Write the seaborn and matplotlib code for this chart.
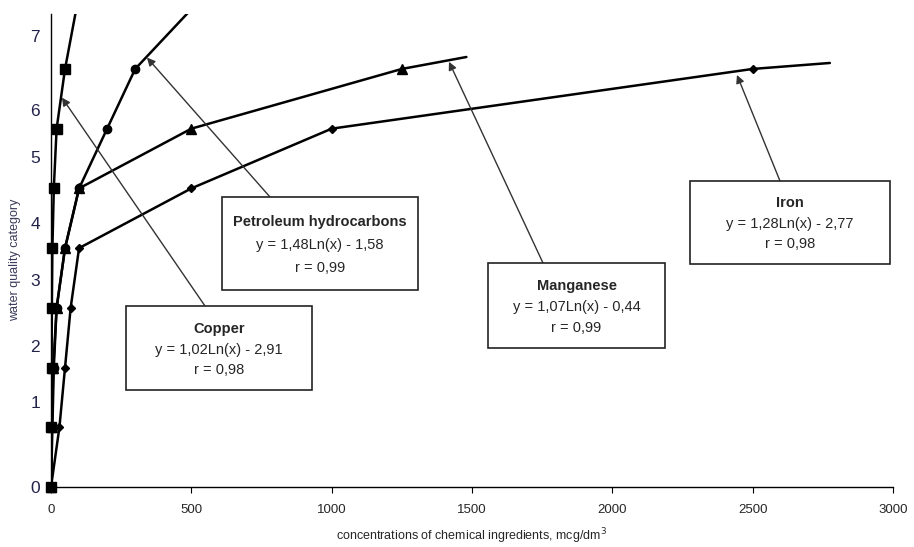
import numpy as np
import pandas as pd
import matplotlib.pyplot as plt
import seaborn as sns
from matplotlib.patches import Rectangle

# Data (x = concentration, y = quality level)
copper_x = [0, 1, 2, 3, 5, 10, 20, 50, 90]
copper_y = [0, 1, 2, 3, 4, 5, 6, 7, 8]
petrol_x = [0, 5, 10, 20, 50, 100, 200, 300, 500]
petrol_y = [0, 1, 2, 3, 4, 5, 6, 7, 8]
mangan_x = [0, 3, 8, 20, 50, 100, 500, 1250, 1480]
mangan_y = [0, 1, 2, 3, 4, 5, 6, 7, 7.2]
iron_x = [0, 30, 50, 70, 100, 500, 1000, 2500, 2775]
iron_y = [0, 1, 2, 3, 4, 5, 6, 7, 7.1]

# category labels and where they sit on the y axis
cat_labels = ['0', '1', '2', '3', '4', '5', '6', '7']
cat_pos = [0, 1.42, 2.36, 3.47, 4.42, 5.53, 6.32, 7.55]

series = [
    ('Copper', copper_x, copper_y, 's', 6.5),
    ('Petroleum hydrocarbons', petrol_x, petrol_y, 'o', 6),
    ('Manganese', mangan_x, mangan_y, '^', 6.5),
    ('Iron', iron_x, iron_y, 'D', 4.5),
]

sns.set_style("white")
plt.rcParams['font.family'] = ['Liberation Sans', 'DejaVu Sans']

fig = plt.figure(figsize=(9.14, 5.47), dpi=100)
ax = fig.add_axes([51 / 914, 60 / 547, 842 / 914, 473 / 547])

for name, xs, ys, mk, ms in series:
    df = pd.DataFrame({'x': xs, 'y': ys})
    sns.lineplot(x='x', y='y', data=df, sort=False, color='black', lw=1.8, ax=ax)
    # last point of each series is only a line end, no marker
    pts = df.iloc[:-1]
    ax.plot(pts['x'], pts['y'], linestyle='none', marker=mk, ms=ms,
            color='black', clip_on=False, zorder=5)

ax.set_xlim(0, 3000)
ax.set_ylim(0, 7.92)
ax.set_xticks(range(0, 3001, 500))
ax.set_yticks(cat_pos)
ax.set_yticklabels(cat_labels)
ax.set_yticks(range(0, 8), minor=True)
ax.tick_params(axis='y', which='major', length=0, pad=8, labelsize=12.5, labelcolor='#23234a')
ax.tick_params(axis='y', which='minor', length=3, direction='out', color='black')
ax.tick_params(axis='x', length=4, direction='out', color='black', labelsize=9.5, pad=8,
               bottom=True)
for s in ['top', 'right']:
    ax.spines[s].set_visible(False)
for s in ['left', 'bottom']:
    ax.spines[s].set_color('black')
    ax.spines[s].set_linewidth(1.0)

ax.set_xlabel('concentrations of chemical ingredients, mcg/dm$^3$', fontsize=9, labelpad=8)
ax.set_ylabel('water quality category', fontsize=9, color='#3a3a5a', labelpad=6)
ax.set_ylabel('')
fig.text(15 / 914, 1 - 260 / 547, 'water quality category', rotation=90, fontsize=9,
         color='#3a3a5a', ha='center', va='center')


def px(x, y):
    # pixel position in the picture -> axes fraction
    return ((x - 51) / 842, (487 - y) / 473)


# boxes: (title, eq, r, box left/top/right/bottom px, arrow start px, arrow tip data)
boxes = [
    ('Copper', 'y = 1,02Ln(x) - 2,91', 'r = 0,98', (126, 306, 312, 390), (205, 306), (39, 6.52)),
    ('Petroleum hydrocarbons', 'y = 1,48Ln(x) - 1,58', 'r = 0,99', (222, 197, 418, 290), (270, 197), (342, 7.19)),
    ('Manganese', 'y = 1,07Ln(x) - 0,44', 'r = 0,99', (488, 263, 665, 348), (543, 263), (1418, 7.12)),
    ('Iron', 'y = 1,28Ln(x) - 2,77', 'r = 0,98', (690, 181, 890, 264), (780, 181), (2444, 6.9)),
]

for title, eq, r, (l, t, rr, b), start, tip in boxes:
    x0, y0 = px(l, b)
    x1, y1 = px(rr, t)
    ax.add_patch(Rectangle((x0, y0), x1 - x0, y1 - y0, transform=ax.transAxes,
                           facecolor='white', edgecolor='#222222', lw=1.2, zorder=6,
                           clip_on=False))
    cx = (x0 + x1) / 2
    h = y1 - y0
    ax.text(cx, y1 - h * 0.27, title, transform=ax.transAxes, ha='center', va='center',
            fontsize=10.5, fontweight='bold', zorder=7)
    ax.text(cx, y1 - h * 0.52, eq, transform=ax.transAxes, ha='center', va='center',
            fontsize=10.5, zorder=7)
    ax.text(cx, y1 - h * 0.76, r, transform=ax.transAxes, ha='center', va='center',
            fontsize=10.5, zorder=7)
    ax.annotate('', xy=tip, xycoords='data', xytext=px(*start), textcoords='axes fraction',
                arrowprops=dict(arrowstyle='-|>', color='#333333', lw=1.0,
                                mutation_scale=12, shrinkA=0, shrinkB=0),
                zorder=4)

plt.savefig('out.png', dpi=100)
